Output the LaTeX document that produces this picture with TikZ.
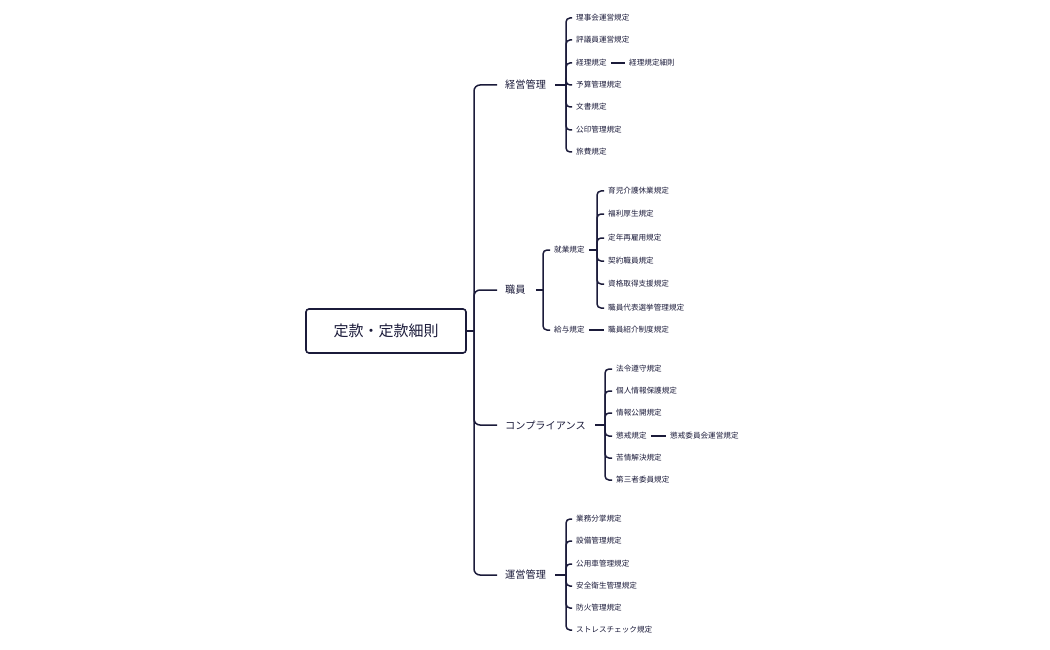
\documentclass[tikz,border=0pt]{standalone}
\usepackage{fontspec}
\setmainfont{Noto Sans CJK JP}
\begin{document}
\begin{tikzpicture}[x=1pt,y=-1pt,
  ln/.style={draw=navy,line width=1.5pt},
  leaf/.style={anchor=west,inner sep=0pt,font=\fontsize{7.6}{9}\selectfont,text=navy},
  br/.style={anchor=west,inner sep=0pt,font=\fontsize{10.2}{12}\selectfont,text=navy},
  rootbox/.style={draw=navy,line width=1.6pt,rounded corners=3pt,minimum width=160pt,minimum height=44pt,font=\fontsize{15}{18}\selectfont,text=navy}]
\definecolor{navy}{HTML}{1B1B3A}
\useasboundingbox (0,0) rectangle (1050,650);
\node[rootbox] (root) at (386,331) {定款・定款細則};
\coordinate (tj) at (474,331);
\draw[ln] (root.east) -- (tj);
% branches
\node[br] (b1) at (505,85) {経営管理};
\node[br] (b2) at (505,290) {職員};
\node[br] (b3) at (505,425) {コンプライアンス};
\node[br] (b4) at (505,575) {運営管理};
\foreach \b in {b1,b2,b3,b4} \draw[ln,rounded corners=6pt] (tj) |- ([xshift=-8pt]\b.west);
% group 1
\coordinate (j1) at (566,85);
\draw[ln] ([xshift=9pt]b1.east) -- (j1);
\foreach \n/\y/\t in {a1/18/理事会運営規定,a2/40/評議員運営規定,a3/63/経理規定,a4/85/予算管理規定,a5/107/文書規定,a6/130/公印管理規定,a7/152/旅費規定}{
  \node[leaf] (\n) at (576,\y) {\t};
  \draw[ln,rounded corners=4pt] (j1) |- ([xshift=-4pt]\n.west);}
\node[leaf] (a3b) at (629,63) {経理規定細則};
\draw[ln] ([xshift=4pt]a3.east) -- ([xshift=-4pt]a3b.west);
% group 2
\coordinate (j2) at (543,290);
\draw[ln] ([xshift=10pt]b2.east) -- (j2);
\node[leaf] (s1) at (554,250) {就業規定};
\node[leaf] (s2) at (554,330) {給与規定};
\foreach \n in {s1,s2} \draw[ln,rounded corners=4pt] (j2) |- ([xshift=-4pt]\n.west);
\coordinate (j3) at (597,250);
\draw[ln] ([xshift=4pt]s1.east) -- (j3);
\foreach \n/\y/\t in {c1/191/育児介護休業規定,c2/214/福利厚生規定,c3/238/定年再雇用規定,c4/261/契約職員規定,c5/284/資格取得支援規定,c6/308/職員代表選挙管理規定}{
  \node[leaf] (\n) at (608,\y) {\t};
  \draw[ln,rounded corners=4pt] (j3) |- ([xshift=-4pt]\n.west);}
\node[leaf] (s2b) at (608,330) {職員紹介制度規定};
\draw[ln] ([xshift=4pt]s2.east) -- ([xshift=-4pt]s2b.west);
% group 3
\coordinate (j4) at (605,425);
\draw[ln] ([xshift=9pt]b3.east) -- (j4);
\foreach \n/\y/\t in {d1/369/法令遵守規定,d2/391/個人情報保護規定,d3/413/情報公開規定,d4/436/懲戒規定,d5/458/苦情解決規定,d6/480/第三者委員規定}{
  \node[leaf] (\n) at (616,\y) {\t};
  \draw[ln,rounded corners=4pt] (j4) |- ([xshift=-4pt]\n.west);}
\node[leaf] (d4b) at (670,436) {懲戒委員会運営規定};
\draw[ln] ([xshift=4pt]d4.east) -- ([xshift=-4pt]d4b.west);
% group 4
\coordinate (j5) at (566,575);
\draw[ln] ([xshift=9pt]b4.east) -- (j5);
\foreach \n/\y/\t in {e1/519/業務分掌規定,e2/541/設備管理規定,e3/564/公用車管理規定,e4/586/安全衛生管理規定,e5/608/防火管理規定,e6/630/ストレスチェック規定}{
  \node[leaf] (\n) at (576,\y) {\t};
  \draw[ln,rounded corners=4pt] (j5) |- ([xshift=-4pt]\n.west);}
\end{tikzpicture}
\end{document}
